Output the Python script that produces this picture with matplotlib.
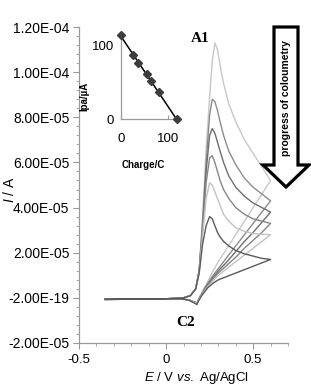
import matplotlib
matplotlib.use("Agg")
import matplotlib.pyplot as plt
import numpy as np
from matplotlib.patches import Polygon
from matplotlib.ticker import FixedLocator, FixedFormatter, MultipleLocator

plt.rcParams['font.family'] = ['Liberation Sans', 'DejaVu Sans']
plt.rcParams['mathtext.fontset'] = 'custom'
plt.rcParams['mathtext.it'] = 'Liberation Sans:italic'
plt.rcParams['mathtext.rm'] = 'Liberation Sans'

# ---------------- data (currents in microampere) ----------------
E_fwd = [-0.35, -0.20, 0.00, 0.10, 0.14, 0.17, 0.19, 0.21, 0.23, 0.25, 0.265,
         0.28, 0.295, 0.31, 0.33, 0.36, 0.40, 0.45, 0.50, 0.55, 0.60]
E_rev = [0.60, 0.55, 0.50, 0.45, 0.40, 0.35, 0.30, 0.27, 0.24, 0.22, 0.20,
         0.187, 0.177, 0.16, 0.13, 0.09, 0.00, -0.20, -0.35]

fwd_1 = [-0.7, -0.6, -0.4, 0.0, 1.0, 4, 12, 36, 66, 89, 105, 113, 110, 103, 95, 86, 78, 70, 64, 58, 52]
fwd_2 = [-0.7, -0.6, -0.4, 0.0, 1.0, 4, 12, 34, 60, 81, 88, 87, 83, 78, 72, 65, 59, 53, 49, 46, 43]
fwd_3 = [-0.7, -0.6, -0.4, 0.0, 1.0, 4, 12, 32, 56, 72, 75, 73, 69, 65, 60, 54, 49, 45, 42, 40, 38]
fwd_4 = [-0.7, -0.6, -0.4, 0.0, 1.0, 4, 12, 30, 51, 62, 63, 60, 56, 52, 48, 44, 40, 37, 35, 34, 33]
fwd_5 = [-0.7, -0.6, -0.4, 0.0, 1.0, 4, 11, 28, 44, 51, 50, 47, 44, 41, 37, 34, 31, 29.5, 28.5, 28.2, 28]
fwd_6 = [-0.7, -0.6, -0.4, 0.0, 1.0, 4, 11, 24, 32, 36, 35, 32, 29, 27, 25, 23, 21, 19.5, 18.5, 17.5, 17]

rev_1 = [52, 46, 40, 34, 28, 22, 16, 12, 7.5, 4.5, 1.5, -0.6, -2.2, -1.7, -0.9, -0.5, -0.4, -0.5, -0.6]
rev_2 = [43, 38, 33, 28, 23, 18, 13, 10, 6.5, 4.0, 1.2, -0.7, -2.3, -1.8, -0.9, -0.5, -0.4, -0.5, -0.6]
rev_3 = [38, 33.5, 29, 25, 20.5, 16, 12, 9, 6, 3.5, 1.0, -0.8, -2.4, -1.8, -0.9, -0.5, -0.4, -0.5, -0.6]
rev_4 = [33, 29, 25.5, 22, 18, 14.5, 11, 8.5, 5.5, 3.2, 0.9, -0.9, -2.5, -1.9, -0.9, -0.5, -0.4, -0.5, -0.6]
rev_5 = [28, 25, 22, 19, 16, 13, 10, 7.5, 5, 3.0, 0.8, -1.0, -2.6, -1.9, -0.9, -0.5, -0.4, -0.5, -0.6]
rev_6 = [17, 15.5, 14, 12.5, 11, 9.5, 8, 6.5, 4.5, 2.5, 0.5, -1.3, -3.0, -2.2, -1.0, -0.5, -0.4, -0.5, -0.6]

curve_colors = ['#c8c8c8', '#8c8c8c', '#6e6e6e', '#868686', '#c2c2c2', '#5a5a5a']

y_ticks = [-2e-5, 0, 2e-5, 4e-5, 6e-5, 8e-5, 1e-4, 1.2e-4]
y_labels = ['-2.00E-05', '-2.00E-19', '2.00E-05', '4.00E-05', '6.00E-05',
            '8.00E-05', '1.00E-04', '1.20E-04']
x_ticks = [-0.5, 0.0, 0.5]
x_labels = ['-0.5', '0', '0.5']

charge = [0, 26, 36, 55, 64, 81, 119]
ipa = [113, 87, 76, 61, 51, 36, 0]

# ---------------- figure ----------------
W, H = 311, 386
fig = plt.figure(figsize=(W / 100, H / 100), dpi=100)

def fx(px):
    return px / W

def fy(py):
    return 1 - py / H

ax = fig.add_axes([fx(79), fy(343), fx(288) - fx(79), fy(27) - fy(343)])
fwds = [fwd_1, fwd_2, fwd_3, fwd_4, fwd_5, fwd_6]
revs = [rev_1, rev_2, rev_3, rev_4, rev_5, rev_6]
for f, r, c in zip(fwds, revs, curve_colors):
    E = list(E_fwd) + list(E_rev)
    I = (np.array(list(f) + list(r)) * 1e-6)
    ax.plot(E, I, color=c, lw=1.0, solid_joinstyle='round')

ax.set_xlim(-0.5, 0.7)
ax.set_ylim(-2e-5, 1.2e-4)
for s in ['top', 'right']:
    ax.spines[s].set_visible(False)
for s in ['left', 'bottom']:
    ax.spines[s].set_color('#9a9a9a')
    ax.spines[s].set_linewidth(0.9)
ax.yaxis.set_major_locator(FixedLocator(y_ticks))
ax.yaxis.set_major_formatter(FixedFormatter(y_labels))
ax.yaxis.set_minor_locator(MultipleLocator(4e-6))
ax.xaxis.set_major_locator(FixedLocator(x_ticks))
ax.xaxis.set_major_formatter(FixedFormatter(x_labels))
ax.xaxis.set_minor_locator(MultipleLocator(0.1))
ax.tick_params(which='major', length=4, color='#9a9a9a', labelsize=10, pad=3)
ax.tick_params(which='minor', length=2.5, color='#9a9a9a')
ax.tick_params(axis='x', pad=4, labelsize=9.5)

fig.text(fx(196), fy(378), r'$\it{E}$ / V $\it{vs.}$ Ag/AgCl', ha='center', va='center', fontsize=9.5)
fig.text(fx(10), fy(190), r'$\it{I}$ / A', ha='center', va='center', rotation=90, fontsize=10)

fig.text(fx(200), fy(38), 'A1', ha='center', va='center', fontsize=11,
         fontweight='bold', family='Liberation Serif')
fig.text(fx(186), fy(322), 'C2', ha='center', va='center', fontsize=11,
         fontweight='bold', family='Liberation Serif')

# big hollow arrow
arrow_px = [(274, 27), (298, 27), (298, 165), (309, 165), (286, 187),
            (263, 165), (274, 165)]
arrow = Polygon([(fx(x), fy(y)) for x, y in arrow_px], closed=True,
                transform=fig.transFigure, facecolor='white', edgecolor='black',
                lw=2.3, joinstyle='miter', zorder=5)
fig.patches.append(arrow)
fig.text(fx(286), fy(98), 'progress of coloumetry', rotation=90, ha='center',
         va='center', fontsize=7.5, fontweight='bold', zorder=6)

# inset
ax2 = fig.add_axes([fx(121), fy(119), fx(177) - fx(121), fy(34) - fy(119)])
coef = np.polyfit(charge, ipa, 1)
xfit = np.array([charge[0], charge[-1]])
ax2.plot(xfit, np.polyval(coef, xfit), color='black', lw=1.1, zorder=2)
ax2.plot(charge, ipa, 'D', color='#3c3c3c', ms=4.5, zorder=3, clip_on=False)
ax2.set_xlim(0, 120)
ax2.set_ylim(0, 115)
ax2.patch.set_alpha(0)
for s in ['top', 'right']:
    ax2.spines[s].set_visible(False)
for s in ['left', 'bottom']:
    ax2.spines[s].set_color('#9a9a9a')
    ax2.spines[s].set_linewidth(0.9)
ax2.set_xticks([0, 100])
ax2.set_yticks([0, 100])
ax2.tick_params(axis='x', direction='in', length=3, color='#9a9a9a', labelsize=9.5, pad=10)
ax2.tick_params(axis='y', direction='in', length=0, color='#9a9a9a', labelsize=9.5, pad=5)
ax2.set_xlabel('Charge/C', fontsize=7, fontweight='bold')
ax2.xaxis.set_label_coords(0.4, -0.48)
ax2.set_ylabel('Ipa/µA', fontsize=7, fontweight='bold')
ax2.yaxis.set_label_coords(-0.56, 0.27)

fig.savefig('out.png', dpi=100)
